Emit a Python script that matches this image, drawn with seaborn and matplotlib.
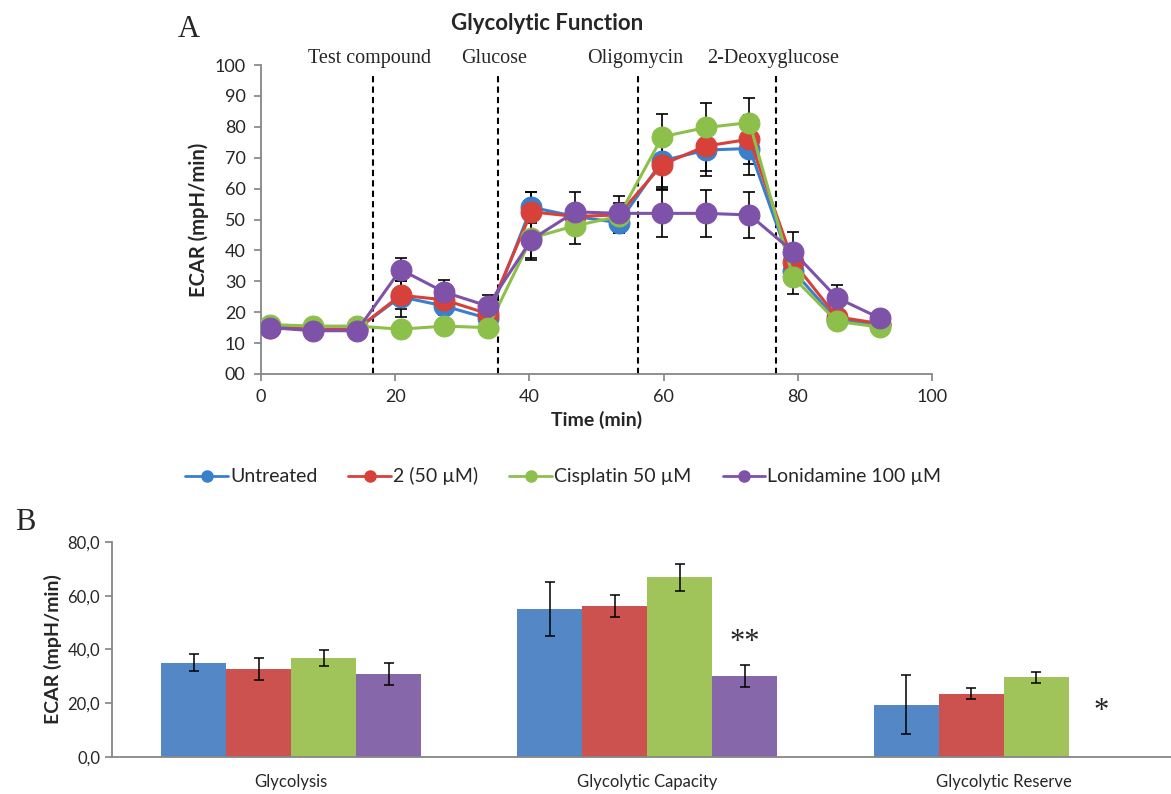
import numpy as np
import pandas as pd
import matplotlib
matplotlib.use("Agg")
import matplotlib.pyplot as plt
import seaborn as sns

## data, panel A (time course)
time = [1.3, 7.8, 14.3, 20.8, 27.3, 33.8, 40.3, 46.8, 53.3, 59.8, 66.3, 72.8, 79.3, 85.8, 92.3]
groups = ["Untreated", "2 (50 µM)", "Cisplatin 50 µM", "Lonidamine 100 µM"]
untreated = [15.5, 14.5, 14.5, 25.0, 22.0, 18.0, 54.0, 51.0, 49.0, 69.0, 72.5, 73.0, 33.5, 17.5, 16.0]
cpd2 = [15.0, 14.5, 14.5, 25.5, 24.0, 19.5, 52.5, 51.0, 51.5, 67.8, 73.8, 76.0, 36.3, 18.5, 16.3]
cisplatin = [16.0, 15.5, 15.5, 14.5, 15.5, 15.0, 44.0, 48.0, 51.0, 76.8, 79.8, 81.4, 31.3, 17.0, 15.2]
lonidamine = [15.0, 14.0, 14.0, 33.8, 26.5, 22.0, 43.5, 52.5, 52.0, 52.0, 52.0, 51.5, 39.6, 24.7, 18.0]
untreated_err = [1.0, 1.0, 1.0, 6.5, 3.0, 2.5, 5.0, 3.0, 3.5, 8.5, 8.5, 8.5, 3.0, 2.0, 1.5]
cpd2_err = [1.0, 1.0, 1.0, 4.5, 3.0, 2.5, 6.5, 3.0, 6.0, 8.0, 8.0, 8.0, 3.0, 2.0, 1.5]
cisplatin_err = [1.0, 1.0, 1.0, 1.0, 1.5, 1.0, 6.5, 6.0, 3.5, 7.5, 8.0, 8.0, 5.5, 2.0, 1.0]
lonidamine_err = [1.0, 1.0, 1.0, 3.7, 4.0, 3.5, 6.5, 6.5, 3.5, 7.5, 7.5, 7.5, 6.5, 4.0, 2.5]
injections = ["Test compound", "Glucose", "Oligomycin", "2-Deoxyglucose"]
injection_times = [16.7, 35.3, 56.2, 76.8]

## data, panel B (summary bars)
params = ["Glycolysis", "Glycolytic Capacity", "Glycolytic Reserve"]
bar_untreated = [35.1, 55.0, 19.5]
bar_cpd2 = [32.7, 56.2, 23.5]
bar_cisplatin = [36.9, 66.8, 29.7]
bar_lonidamine = [30.8, 30.2, np.nan]
bar_untreated_err = [3.1, 10.0, 11.1]
bar_cpd2_err = [4.0, 4.0, 2.1]
bar_cisplatin_err = [3.0, 5.0, 2.0]
bar_lonidamine_err = [4.0, 4.0, np.nan]

line_cols = ["#3A7FCC", "#D8403A", "#8DC04A", "#7E52A8"]
bar_cols = ["#5387C6", "#CB524F", "#A1C45A", "#8667AA"]
axis_grey = "#868686"

sns.set_theme(style="white")
plt.rcParams["font.family"] = ["Lato", "DejaVu Sans"]

fig = plt.figure(figsize=(11.71, 7.94), dpi=100)

# ---------------- panel A
axA = fig.add_axes([0.2229, 0.529, 0.573, 0.389])
series = [untreated, cpd2, cisplatin, lonidamine]
errs = [untreated_err, cpd2_err, cisplatin_err, lonidamine_err]
dfA = pd.concat([pd.DataFrame({"Time": time, "ECAR": s, "err": e, "group": g})
                 for s, e, g in zip(series, errs, groups)], ignore_index=True)

sns.lineplot(data=dfA, x="Time", y="ECAR", hue="group", hue_order=groups,
             palette=line_cols, marker="o", markersize=15, markeredgewidth=0.8,
             linewidth=2.2, ax=axA, legend=False, zorder=3)
# seaborn puts white edges on markers, the original has none
for ln in axA.lines:
    ln.set_markeredgecolor(ln.get_color())
for g, c in zip(groups, line_cols):
    d = dfA[dfA["group"] == g]
    axA.errorbar(d["Time"], d["ECAR"], yerr=d["err"], fmt="none", ecolor="black",
                 elinewidth=1.2, capsize=4, capthick=1.2, zorder=2)

for t, lab in zip(injection_times, injections):
    axA.plot([t, t], [0, 96.5], ls=(0, (3, 2)), color="black", lw=1.5, zorder=1)
    axA.text(t - 0.5, 102.3, lab, ha="center", va="center", fontsize=14.5,
             family="Liberation Serif")

axA.set_xlim(0, 100)
axA.set_ylim(0, 100)
axA.set_xticks(range(0, 101, 20))
axA.set_yticks(range(0, 101, 10))
axA.set_yticklabels(["00"] + [str(v) for v in range(10, 101, 10)])
axA.tick_params(labelsize=13, length=5, color=axis_grey, direction="out",
                left=True, bottom=True, pad=6)
axA.set_xlabel("Time (min)", fontsize=14, fontweight="bold")
axA.set_ylabel("ECAR (mpH/min)", fontsize=14.5, fontweight="bold")
for side in ["top", "right"]:
    axA.spines[side].set_visible(False)
for side in ["left", "bottom"]:
    axA.spines[side].set_color(axis_grey)
    axA.spines[side].set_linewidth(1.3)
fig.text(0.467, 0.970, "Glycolytic Function", ha="center", va="center",
         fontsize=16, fontweight="bold")
fig.text(0.152, 0.963, "A", ha="left", va="center", fontsize=22,
         family="Liberation Serif")

handles = [plt.Line2D([], [], color=c, marker="o", markersize=8, lw=2) for c in line_cols]
fig.legend(handles, groups, loc="center", bbox_to_anchor=(0.481, 0.4), ncol=4,
           frameon=False, fontsize=14, handlelength=2.2, handletextpad=0.1,
           columnspacing=1.6)

# ---------------- panel B
axB = fig.add_axes([0.0956, 0.0466, 0.9044, 0.2708])
bars = [bar_untreated, bar_cpd2, bar_cisplatin, bar_lonidamine]
bar_errs = [bar_untreated_err, bar_cpd2_err, bar_cisplatin_err, bar_lonidamine_err]
dfB = pd.concat([pd.DataFrame({"param": params, "ECAR": b, "err": e, "group": g})
                 for b, e, g in zip(bars, bar_errs, groups)], ignore_index=True)
dfB_plot = dfB.dropna()

sns.barplot(data=dfB_plot, x="param", y="ECAR", hue="group", hue_order=groups,
            order=params, palette=bar_cols, width=0.73, gap=0, errorbar=None,
            saturation=1, edgecolor="none", ax=axB, legend=False)

for cont, g in zip(axB.containers, groups):
    d = dfB_plot[dfB_plot["group"] == g]
    xs = [p.get_x() + p.get_width() / 2 for p in cont]
    axB.errorbar(xs, d["ECAR"], yerr=d["err"], fmt="none", ecolor="black",
                 elinewidth=1.1, capsize=3.5, capthick=1.1)
    if g == groups[-1]:
        star_x_cap = xs[1]

axB.text(star_x_cap, 42.5, "**", ha="center", va="center", fontsize=22,
         family="Liberation Serif")
axB.text(star_x_cap + 1, 17.0, "*", ha="center", va="center", fontsize=22,
         family="Liberation Serif")

axB.set_xlim(-0.503, 2.47)
axB.set_ylim(0, 80)
axB.set_yticks(range(0, 81, 20))
axB.set_yticklabels([f"{v},0" for v in range(0, 81, 20)])
axB.set_xlabel("")
axB.set_ylabel("ECAR (mpH/min)", fontsize=14, fontweight="bold")
axB.tick_params(axis="y", labelsize=12, length=5, color=axis_grey, left=True)
axB.tick_params(axis="x", labelsize=12, length=0, pad=12)
for side in ["top", "right"]:
    axB.spines[side].set_visible(False)
for side in ["left", "bottom"]:
    axB.spines[side].set_color(axis_grey)
    axB.spines[side].set_linewidth(1.3)
fig.text(0.013, 0.342, "B", ha="left", va="center", fontsize=22,
         family="Liberation Serif")

fig.savefig("out.png", dpi=100)
